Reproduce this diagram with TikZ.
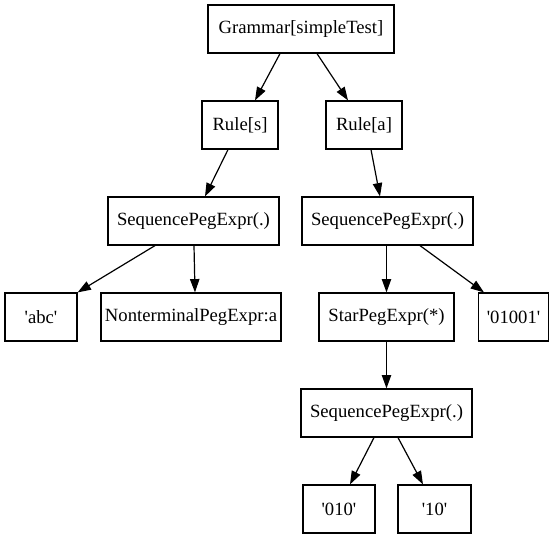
\documentclass[tikz,border=0pt]{standalone}
\usepackage{fontspec}
\setmainfont{Liberation Serif}[Ligatures=TeXOff]
\usetikzlibrary{arrows.meta,calc}
\begin{document}
\begin{tikzpicture}[x=0.75pt,y=-0.75pt,
  box/.style={draw=black,line width=0.9pt,rectangle,inner sep=0pt,minimum height=36pt,font=\fontsize{14pt}{16pt}\selectfont,text=black},
  edge/.style={draw=black,line width=0.9pt,-{Triangle[length=10pt,width=7pt]}}]
\useasboundingbox (0,0) rectangle (557,539);
\node[box,minimum width=139.5pt] (g) at (301,29) {Grammar[simpleTest]};
\node[box,minimum width=57pt] (rs) at (240,125) {Rule[s]};
\node[box,minimum width=57pt] (ra) at (364,125) {Rule[a]};
\node[box,minimum width=128.25pt] (sl) at (193.5,221) {SequencePegExpr(.)};
\node[box,minimum width=128.25pt] (sr) at (387.5,221) {SequencePegExpr(.)};
\node[box,minimum width=54pt] (abc) at (41,317) {'abc'};
\node[box,minimum width=135pt] (nt) at (191,317) {NonterminalPegExpr:a};
\node[box,minimum width=101.25pt] (star) at (386.5,317) {StarPegExpr(*)};
\node[box,minimum width=52.5pt] (o1) at (513.5,317) {'01001'};
\node[box,minimum width=128.25pt] (sb) at (386.5,413) {SequencePegExpr(.)};
\node[box,minimum width=54pt] (oa) at (339,509) {'010'};
\node[box,minimum width=54.75pt] (ob) at (434.5,509) {'10'};
\draw[edge] ($(g.south)+(-21,0)$) -- ($(rs.north)+(15,0)$);
\draw[edge] ($(g.south)+(16,0)$) -- ($(ra.north)+(-16,0)$);
\draw[edge] ($(rs.south)+(-12,0)$) -- ($(sl.north)+(11.5,0)$);
\draw[edge] ($(ra.south)+(7,0)$) -- ($(sr.north)+(-7.5,0)$);
\draw[edge] ($(sl.south)+(-38.5,0)$) -- (abc.north east);
\draw[edge] ($(sl.south)+(0.5,0)$) -- ($(nt.north)+(4,0)$);
\draw[edge] ($(sr.south)+(-1,0)$) -- (star.north);
\draw[edge] ($(sr.south)+(32.5,0)$) -- ($(o1.north)+(-29.5,0)$);
\draw[edge] (star.south) -- (sb.north);
\draw[edge] ($(sb.south)+(-12.5,0)$) -- ($(oa.north)+(11,0)$);
\draw[edge] ($(sb.south)+(11.5,0)$) -- ($(ob.north)+(-11.5,0)$);
\end{tikzpicture}
\end{document}
